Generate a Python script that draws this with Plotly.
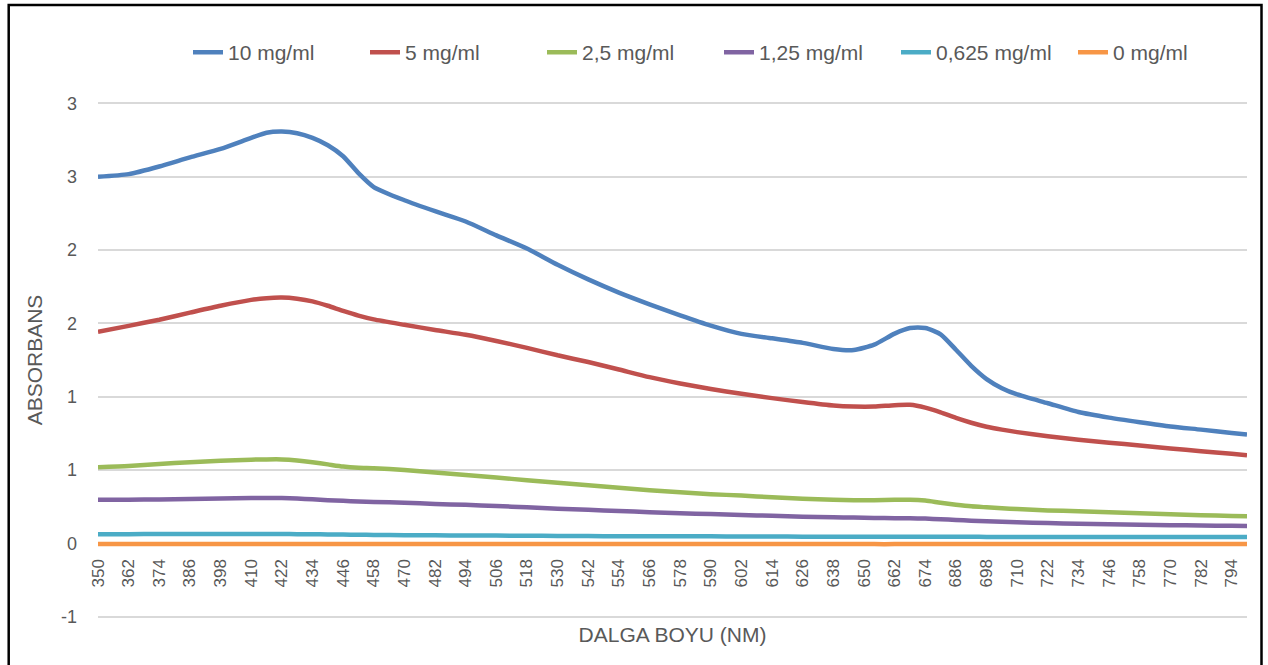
import plotly.graph_objects as go

# ---- data ----
wavelength = [350, 362, 374, 386, 398, 410, 416, 422, 428, 434, 440, 446, 452, 458,
              470, 482, 494, 506, 518, 530, 542, 554, 566, 578, 590, 602, 614, 626,
              638, 646, 654, 662, 668, 674, 680, 686, 692, 698, 704, 710, 722, 734,
              746, 758, 770, 782, 794, 800]

conc_10 = [2.500, 2.518, 2.570, 2.632, 2.690, 2.765, 2.800, 2.808, 2.797, 2.765, 2.715, 2.640, 2.525, 2.430,
           2.340, 2.265, 2.195, 2.100, 2.010, 1.900, 1.800, 1.710, 1.630, 1.555, 1.485, 1.428, 1.398, 1.367,
           1.325, 1.318, 1.355, 1.430, 1.468, 1.468, 1.425, 1.320, 1.210, 1.120, 1.058, 1.015, 0.955, 0.895,
           0.857, 0.826, 0.797, 0.775, 0.752, 0.741]

conc_5 = [1.442, 1.483, 1.525, 1.573, 1.620, 1.660, 1.672, 1.676, 1.668, 1.650, 1.620, 1.585, 1.553, 1.527,
          1.490, 1.455, 1.422, 1.380, 1.333, 1.282, 1.236, 1.185, 1.133, 1.090, 1.052, 1.020, 0.990, 0.963,
          0.939, 0.932, 0.932, 0.942, 0.944, 0.925, 0.893, 0.855, 0.822, 0.795, 0.775, 0.758, 0.730, 0.706,
          0.686, 0.667, 0.647, 0.628, 0.611, 0.601]

conc_2_5 = [0.519, 0.527, 0.540, 0.553, 0.562, 0.570, 0.572, 0.572, 0.565, 0.553, 0.538, 0.523, 0.515, 0.512,
            0.500, 0.482, 0.465, 0.448, 0.430, 0.412, 0.395, 0.378, 0.362, 0.348, 0.335, 0.325, 0.314, 0.304,
            0.297, 0.293, 0.293, 0.296, 0.297, 0.291, 0.276, 0.263, 0.252, 0.245, 0.238, 0.233, 0.224, 0.218,
            0.211, 0.204, 0.197, 0.191, 0.186, 0.184]

conc_1_25 = [0.297, 0.297, 0.299, 0.302, 0.305, 0.308, 0.308, 0.308, 0.305, 0.300, 0.294, 0.289, 0.285, 0.282,
             0.276, 0.268, 0.262, 0.254, 0.245, 0.236, 0.228, 0.220, 0.212, 0.205, 0.199, 0.193, 0.187, 0.181,
             0.177, 0.175, 0.173, 0.171, 0.170, 0.168, 0.164, 0.159, 0.154, 0.150, 0.146, 0.143, 0.138, 0.133,
             0.129, 0.126, 0.123, 0.121, 0.119, 0.118]

conc_0_625 = [0.062, 0.062, 0.063, 0.063, 0.063, 0.063, 0.063, 0.063, 0.062, 0.061, 0.060, 0.059, 0.058, 0.057,
              0.055, 0.054, 0.053, 0.052, 0.051, 0.050, 0.049, 0.048, 0.048, 0.047, 0.047, 0.046, 0.046, 0.045,
              0.045, 0.045, 0.045, 0.045, 0.045, 0.045, 0.044, 0.044, 0.044, 0.043, 0.043, 0.043, 0.043, 0.043,
              0.042, 0.042, 0.042, 0.042, 0.042, 0.042]

conc_0 = [-0.006, -0.006, -0.006, -0.005, -0.006, -0.006, -0.006, -0.006, -0.006, -0.006, -0.006, -0.006, -0.006, -0.005,
          -0.006, -0.006, -0.006, -0.006, -0.006, -0.005, -0.006, -0.006, -0.006, -0.006, -0.006, -0.006, -0.005, -0.006,
          -0.006, -0.006, -0.006, -0.006, -0.005, -0.006, -0.006, -0.006, -0.006, -0.006, -0.006, -0.006, -0.006, -0.006,
          -0.006, -0.006, -0.006, -0.006, -0.006, -0.006]

series_names = ["10 mg/ml", "5 mg/ml", "2,5 mg/ml", "1,25 mg/ml", "0,625 mg/ml", "0 mg/ml"]
series_values = [conc_10, conc_5, conc_2_5, conc_1_25, conc_0_625, conc_0]
series_colors = ["#4F81BD", "#C0504D", "#9BBB59", "#8064A2", "#4BACC6", "#F79646"]

y_tickvals = [-0.5, 0, 0.5, 1.0, 1.5, 2.0, 2.5, 3.0]
y_ticktext = ["-1", "0", "1", "1", "2", "2", "3", "3"]

FONT = "Liberation Sans"
TXT = "#595959"

# plot-area geometry in page pixels
L, R, T, B = 98, 1247, 101.5, 618.5
W, H = R - L, B - T

def px_x(p):
    return (p - L) / W

def px_y(p):
    return (B - p) / H

fig = go.Figure()
for name, vals, col in zip(series_names, series_values, series_colors):
    fig.add_trace(go.Scatter(
        x=wavelength, y=vals, name=name, mode="lines",
        line=dict(color=col, width=4.5, shape="spline", smoothing=0.6),
    ))

fig.update_layout(
    width=1268, height=665,
    margin=dict(l=L, r=1268 - R, t=T, b=665 - B, autoexpand=False),
    paper_bgcolor="white", plot_bgcolor="white",
    font=dict(family=FONT, color=TXT, size=17),
    showlegend=True,
    legend=dict(
        orientation="h", x=px_x(188), y=px_y(52), xanchor="left", yanchor="middle",
        font=dict(size=21, color=TXT), entrywidth=132, itemwidth=30,
        bgcolor="rgba(0,0,0,0)",
    ),
    xaxis=dict(
        range=[350, 800], tick0=350, dtick=12, tickangle=-90,
        showgrid=False, zeroline=False, showline=False, ticks="",
        anchor="free", position=px_y(543),
        ticklabelstandoff=12,
        tickfont=dict(size=17, color=TXT),
        title=dict(text="DALGA BOYU (NM)", font=dict(size=21, color=TXT), standoff=40),
    ),
    yaxis=dict(
        range=[-0.51, 3.01], tickvals=y_tickvals, ticktext=y_ticktext,
        showgrid=True, gridcolor="#D9D9D9", gridwidth=1.5,
        zeroline=False, showline=False, ticks="",
        ticklabelstandoff=20,
        tickfont=dict(size=18, color=TXT),
        title=dict(text="ABSORBANS", font=dict(size=21, color=TXT), standoff=12),
    ),
    shapes=[dict(
        type="rect", xref="paper", yref="paper",
        x0=px_x(8.7), x1=px_x(1261.5),
        y0=px_y(668), y1=px_y(4.3),
        line=dict(color="black", width=2.5), fillcolor="rgba(0,0,0,0)", layer="above",
    )],
)

fig.write_html("out.html", config={"displayModeBar": False},
               post_script="document.body.style.margin='0';")
